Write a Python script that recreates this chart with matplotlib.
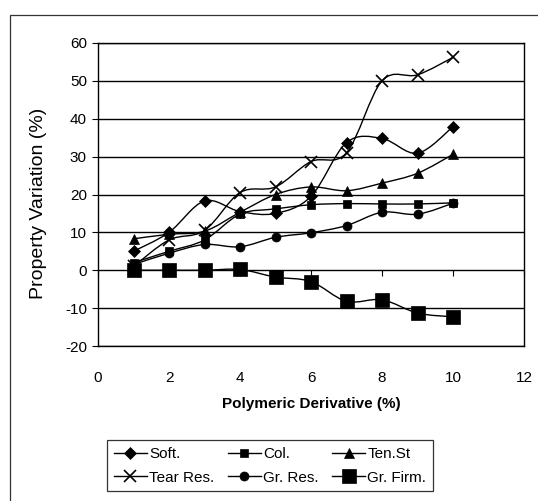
import numpy as np
import matplotlib
matplotlib.use("Agg")
import matplotlib.pyplot as plt
from matplotlib.path import Path
from matplotlib.patches import PathPatch, Rectangle
from matplotlib.lines import Line2D

plt.rcParams["font.family"] = ["Liberation Sans", "DejaVu Sans"]

# ---- data ----
x_vals = [1, 2, 3, 4, 5, 6, 7, 8, 9, 10]
soft = [5, 10, 18.3, 15.5, 15, 19.5, 33.7, 34.8, 30.9, 37.9]
col = [2, 5, 8, 14.8, 16.2, 17.3, 17.6, 17.5, 17.5, 17.8]
ten_st = [8.3, 9.5, 10.3, 15.3, 20, 22, 21, 23, 25.6, 30.6]
tear_res = [1, 8, 10.5, 20.5, 22, 28.7, 31, 50, 51.6, 56.2]
gr_res = [1.5, 4.5, 6.8, 6.2, 8.7, 9.9, 11.8, 15.3, 14.8, 17.7]
gr_firm = [0, 0, 0, 0.2, -1.8, -3, -8.2, -7.8, -11.3, -12.3]

series_names = ["Soft.", "Col.", "Ten.St", "Tear Res.", "Gr. Res.", "Gr. Firm."]
series_values = [soft, col, ten_st, tear_res, gr_res, gr_firm]
markers = ["D", "s", "^", "x", "o", "s"]
msizes = [6.5, 5.5, 7, 8, 6.5, 10]

x_ticks = [0, 2, 4, 6, 8, 10, 12]
y_ticks = [-20, -10, 0, 10, 20, 30, 40, 50, 60]


def smooth_path(xs, ys):
    pts = np.column_stack([xs, ys]).astype(float)
    n = len(pts)
    verts = [pts[0]]
    codes = [Path.MOVETO]
    for i in range(n - 1):
        p0 = pts[i - 1] if i > 0 else pts[i]
        p1 = pts[i]
        p2 = pts[i + 1]
        p3 = pts[i + 2] if i + 2 < n else pts[i + 1]
        c1 = p1 + (p2 - p0) / 6.0
        c2 = p2 - (p3 - p1) / 6.0
        verts += [c1, c2, p2]
        codes += [Path.CURVE4] * 3
    return Path(verts, codes)


W, H = 538, 501
fig = plt.figure(figsize=(W / 100, H / 100), dpi=100)
fig.patch.set_facecolor("white")

# outer chart-area frame
fig.patches.append(Rectangle((10 / W, -0.1), 1.5, (H - 15) / H + 0.1,
                             transform=fig.transFigure, fill=False,
                             ec="#333333", lw=0.9))

left, right, top, bottom = 98, 524, 43, 346
ax = fig.add_axes([left / W, 1 - bottom / H, (right - left) / W, (bottom - top) / H])
ax.set_xlim(0, 12)
ax.set_ylim(-20, 60)
ax.set_xticks(x_ticks)
ax.set_yticks(y_ticks)
ax.set_yticklabels([str(v) for v in y_ticks])
ax.set_xticklabels([str(v) for v in x_ticks])

for s in ax.spines.values():
    s.set_color("black")
    s.set_linewidth(1.0)

ax.yaxis.grid(True, color="black", lw=1.0)
ax.set_axisbelow(True)

ax.tick_params(axis="y", direction="out", length=4, width=0.8, labelsize=11, pad=4)
ax.tick_params(axis="x", length=0, labelsize=11, pad=18)

sec = ax.secondary_xaxis(0.25)
sec.set_xticks(x_ticks)
sec.tick_params(axis="x", direction="out", length=4, width=0.8, labelbottom=False)
sec.spines["bottom"].set_visible(False)

handles = {}
for name, vals, m, ms in zip(series_names, series_values, markers, msizes):
    ax.add_patch(PathPatch(smooth_path(x_vals, vals), fill=False, ec="black", lw=1.0, zorder=3))
    mew = 1.2 if m == "x" else 0.5
    ax.plot(x_vals, vals, ls="none", marker=m, ms=ms, color="black", mew=mew, zorder=4)
    handles[name] = Line2D([], [], color="black", lw=1.0, marker=m, ms=ms, mew=mew)

ax.set_ylabel("Property Variation (%)", fontsize=14)
ax.yaxis.set_label_coords(-0.12, 0.47)
ax.set_xlabel("Polymeric Derivative (%)", fontsize=11, fontweight="bold")
ax.xaxis.set_label_coords(0.5, -0.168)

order = ["Soft.", "Tear Res.", "Col.", "Gr. Res.", "Ten.St", "Gr. Firm."]
leg = fig.legend([handles[k] for k in order], order, ncol=3, loc="upper left",
                 bbox_to_anchor=(107 / W, 1 - 440 / H), borderaxespad=0,
                 fontsize=11, frameon=True, fancybox=False, handlelength=2.15,
                 handletextpad=0.15, columnspacing=0.9, labelspacing=0.63,
                 borderpad=0.45)
leg.get_frame().set_edgecolor("black")
leg.get_frame().set_linewidth(0.9)

fig.savefig("out.png", dpi=100)
